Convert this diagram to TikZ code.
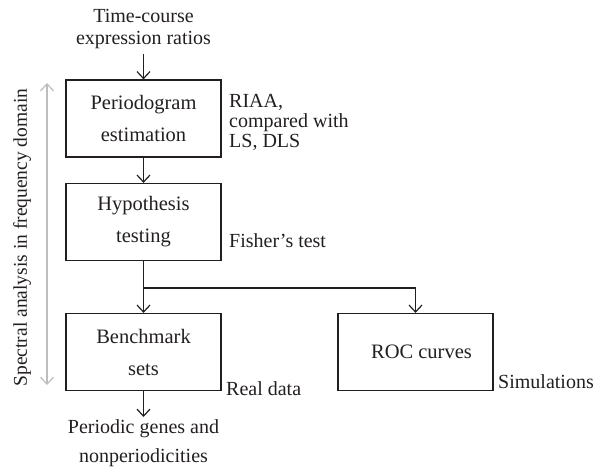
\documentclass[tikz,border=0pt]{standalone}
\usepackage{fontspec}
\setmainfont{Liberation Serif}
\usetikzlibrary{arrows.meta}
\definecolor{ink}{HTML}{231F20}
\definecolor{lightgrey}{HTML}{BDBDBD}
\begin{document}
\begin{tikzpicture}[x=1pt,y=-1pt,
  stepbox/.style={draw=ink,line width=1.2pt,minimum width=155pt,minimum height=77pt,inner sep=0pt,align=center,font=\fontsize{20.5}{32}\selectfont,text=ink},
  lbl/.style={inner sep=0pt,align=left,font=\fontsize{20}{21}\selectfont,text=ink},
  flow/.style={draw=ink,line width=1.2pt,-{Straight Barb[length=7pt,width=13pt,line width=1.2pt]}},
  span/.style={draw=lightgrey,line width=1.2pt,{Straight Barb[length=7pt,width=13pt,line width=1.2pt]}-{Straight Barb[length=7pt,width=13pt,line width=1.2pt]}}
]
\useasboundingbox (0,0) rectangle (614,469);
\node[lbl,align=center,anchor=base,font=\fontsize{20}{22}\selectfont] (input) at (143.5,44) {Time-course\\expression ratios};
\node[stepbox] (pgram) at (143.5,118.5) {Periodogram\\estimation};
\node[stepbox] (hyp) at (143.5,222) {Hypothesis\\testing};
\node[stepbox] (bench) at (143.5,352) {Benchmark\\sets};
\node[stepbox] (roc) at (415.5,352) {\hspace*{12pt}ROC curves};
\node[lbl,align=center,anchor=base,font=\fontsize{20}{29}\selectfont] (out) at (143.5,462) {Periodic genes and\\nonperiodicities};
\node[lbl,anchor=base west,font=\fontsize{20}{20}\selectfont] (riaa) at (229,147) {RIAA,\\compared with\\LS, DLS};
\node[lbl,anchor=base west] (fisher) at (229,247) {Fisher’s test};
\node[lbl,anchor=base west] (real) at (226,395) {Real data};
\node[lbl,anchor=base west] (sim) at (498,388) {Simulations};
\node[lbl,rotate=90,font=\fontsize{19.5}{21}\selectfont] (spec) at (22,237.5) {Spectral analysis in frequency domain};
\coordinate (spantop) at (47,83);
\coordinate (spanbot) at (47,385);
\coordinate (split) at (143.5,288);
\coordinate (instart) at (143.5,54);
\coordinate (outend) at (143.5,417);
\draw[span] (spantop) -- (spanbot);
\draw[flow] (instart) -- (pgram.north);
\draw[flow] (pgram) -- (hyp);
\draw[flow] (hyp) -- (bench);
\draw[flow] (split) -| (roc.north);
\draw[flow] (bench.south) -- (outend);
\end{tikzpicture}
\end{document}
